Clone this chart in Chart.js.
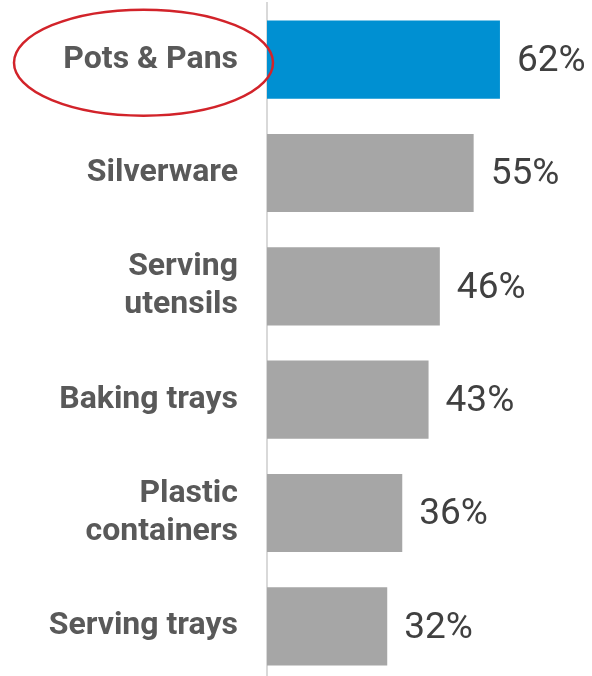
<!DOCTYPE html>
<html>
<head>
<meta charset="utf-8">
<script src="https://cdn.jsdelivr.net/npm/chart.js@4.4.1/dist/chart.umd.min.js"></script>
<style>
  html, body { margin: 0; padding: 0; background: #fff; overflow: hidden; }
  #wrap { width: 592px; height: 684px; position: relative; }
</style>
</head>
<body>
<div id="wrap"><canvas id="chart"></canvas></div>
<script>
const categories = ['Pots & Pans', 'Silverware', ['Serving', 'utensils'], 'Baking trays', ['Plastic', 'containers'], 'Serving trays'];
const shares = [62, 55, 46, 43, 36, 32];
const barColors = ['#0090d2', '#a6a6a6', '#a6a6a6', '#a6a6a6', '#a6a6a6', '#a6a6a6'];

// percentage text right of each bar
const valueLabels = {
    id: 'valueLabels',
    afterDatasetsDraw(chart) {
        const ctx = chart.ctx;
        const meta = chart.getDatasetMeta(0);
        ctx.save();
        ctx.font = '37px Roboto';
        ctx.fillStyle = '#404040';
        ctx.textAlign = 'left';
        ctx.textBaseline = 'middle';
        meta.data.forEach((bar, i) => {
            ctx.fillText(shares[i] + '%', bar.x + 17, bar.y + 2);
        });
        ctx.restore();
    }
};

// red ellipse around the highlighted category
const highlight = {
    id: 'highlight',
    afterDraw(chart) {
        const ctx = chart.ctx;
        const y = chart.scales.y.getPixelForValue(0) + 3;
        const left = chart.chartArea.left - 253;
        const right = chart.chartArea.left + 6;
        ctx.save();
        ctx.strokeStyle = '#d2232a';
        ctx.lineWidth = 2.5;
        ctx.beginPath();
        ctx.ellipse((left + right) / 2, y, (right - left) / 2, 53, 0, 0, Math.PI * 2);
        ctx.stroke();
        ctx.restore();
    }
};

new Chart(document.getElementById('chart'), {
    type: 'bar',
    data: {
        labels: categories,
        datasets: [{
            data: shares,
            backgroundColor: barColors,
            borderWidth: 0,
            barPercentage: 0.69,
            categoryPercentage: 1
        }]
    },
    options: {
        indexAxis: 'y',
        responsive: true,
        maintainAspectRatio: false,
        animation: false,
        layout: { padding: { top: 3, bottom: 1, left: 0, right: 0 } },
        plugins: {
            legend: { display: false },
            tooltip: { enabled: false }
        },
        scales: {
            x: { display: false, min: 0, max: 86.5 },
            y: {
                grid: { display: false },
                border: { display: true, color: '#d9d9d9', width: 2 },
                ticks: {
                    color: '#595959',
                    padding: 21,
                    font: { family: 'Roboto', size: 32, weight: 'bold', lineHeight: 1.19 }
                },
                afterFit(scale) {
                    scale.width = 267;
                    scale.paddingTop = 0;
                    scale.paddingBottom = 0;
                }
            }
        }
    },
    plugins: [valueLabels, highlight]
});
</script>
</body>
</html>
